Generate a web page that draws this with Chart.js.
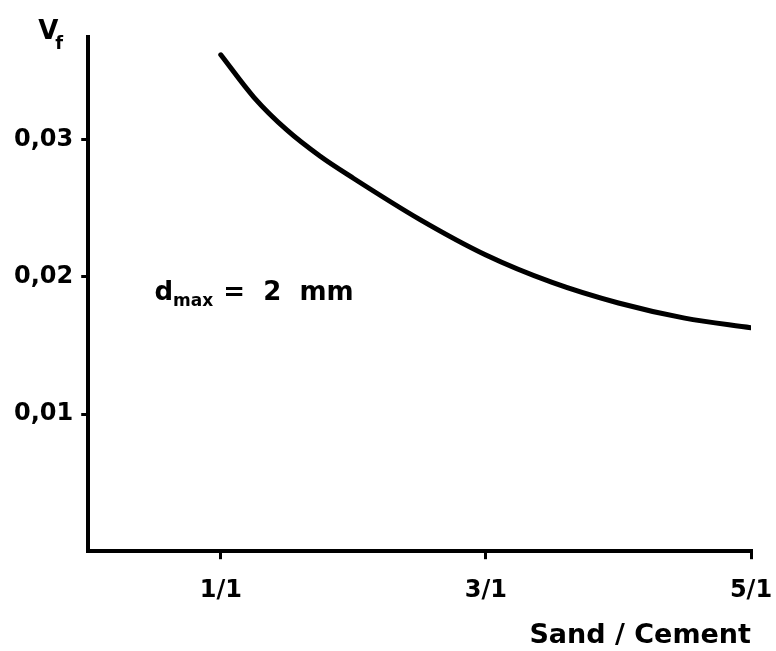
<!DOCTYPE html>
<html>
<head>
<meta charset="utf-8">
<script src="https://cdn.jsdelivr.net/npm/chart.js@4/dist/chart.umd.min.js"></script>
<style>
  html, body { margin: 0; padding: 0; background: #fff; }
  #wrap { width: 776px; height: 651px; }
</style>
</head>
<body>
<div id="wrap"><canvas id="chart"></canvas></div>
<script>
// sand/cement ratio (x : 1) and fibre volume fraction
const ratios = [1, 1.25, 1.5, 1.75, 2, 2.5, 3, 3.5, 4, 4.5, 5];
const vf = [0.0362, 0.0331, 0.0307, 0.0288, 0.0272, 0.0242, 0.0216, 0.0196, 0.0181, 0.0170, 0.0163];
const xTicks = [1, 3, 5];
const yTicks = [0.01, 0.02, 0.03];

const font = "'DejaVu Sans', sans-serif";

// Vf label and d_max note drawn on top of the chart
const labelsPlugin = {
    id: 'labels',
    afterDraw(chart) {
        const c = chart.ctx;
        const area = chart.chartArea;
        c.save();
        c.fillStyle = '#000';
        c.textBaseline = 'alphabetic';
        c.font = "bold 26px " + font;
        c.fillText('V', area.left - 50, area.top + 2);
        c.font = "bold 18px " + font;
        c.fillText('f', area.left - 33, area.top + 12);

        const x = chart.scales.x.getPixelForValue(0.5);
        const y = chart.scales.y.getPixelForValue(0.0183);
        c.font = "bold 26px " + font;
        c.fillText('d', x, y);
        let w = c.measureText('d').width;
        c.font = "bold 17px " + font;
        c.fillText('max', x + w, y + 6);
        w += c.measureText('max').width;
        c.font = "bold 26px " + font;
        c.fillText(' =  2  mm', x + w + 1, y);
        c.restore();
    }
};

new Chart(document.getElementById('chart'), {
    type: 'line',
    data: {
        labels: ratios,
        datasets: [{
            data: ratios.map((r, i) => ({ x: r, y: vf[i] })),
            borderColor: '#000',
            borderWidth: 5,
            borderCapStyle: 'round',
            pointRadius: 0,
            cubicInterpolationMode: 'monotone',
            fill: false
        }]
    },
    options: {
        responsive: true,
        maintainAspectRatio: false,
        animation: false,
        layout: { padding: { left: 6, top: 37, right: 0, bottom: 0 } },
        plugins: {
            legend: { display: false },
            tooltip: { enabled: false }
        },
        scales: {
            x: {
                type: 'linear',
                min: 0,
                max: 5,
                afterBuildTicks: axis => { axis.ticks = xTicks.map(v => ({ value: v })); },
                afterFit: axis => { axis.paddingRight = 25; },
                grid: { display: true, drawOnChartArea: false, tickLength: 8, color: '#000', lineWidth: 3 },
                border: { display: true, color: '#000', width: 4 },
                ticks: {
                    color: '#000',
                    padding: 17,
                    maxRotation: 0,
                    font: { family: font, size: 24, weight: 'bold' },
                    callback: v => v + '/1'
                },
                title: {
                    display: true,
                    text: 'Sand / Cement',
                    align: 'end',
                    color: '#000',
                    padding: { top: 0, bottom: 2 },
                    font: { family: font, size: 27, weight: 'bold', lineHeight: 1 }
                }
            },
            y: {
                min: 0,
                max: 0.0375,
                afterBuildTicks: axis => { axis.ticks = yTicks.map(v => ({ value: v })); },
                grid: { display: true, drawOnChartArea: false, tickLength: 7, color: '#000', lineWidth: 3 },
                border: { display: true, color: '#000', width: 4 },
                ticks: {
                    color: '#000',
                    padding: 8,
                    font: { family: font, size: 24, weight: 'bold' },
                    callback: v => v.toFixed(2).replace('.', ',')
                }
            }
        }
    },
    plugins: [labelsPlugin]
});
</script>
</body>
</html>
